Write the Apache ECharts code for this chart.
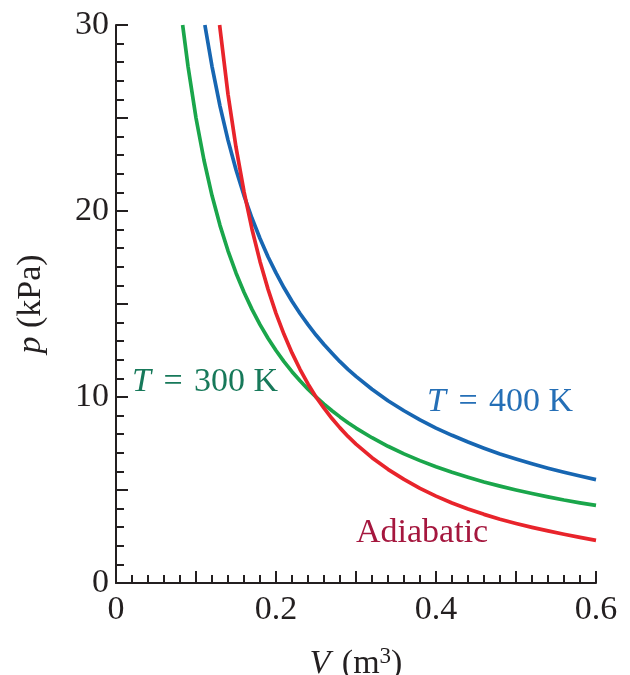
<!DOCTYPE html>
<html>
<head>
<meta charset="utf-8">
<script src="https://cdn.jsdelivr.net/npm/echarts@6/dist/echarts.min.js"></script>
<style>
  html, body { margin: 0; padding: 0; background: #fff; }
  #chart { width: 630px; height: 675px; }
</style>
</head>
<body>
<div id="chart"></div>
<script>
// Volume samples (m^3) and pressures (kPa) along each process curve
const isotherm300V = [0.0833, 0.09, 0.10, 0.11, 0.12, 0.13, 0.14, 0.15, 0.16, 0.17, 0.18, 0.19, 0.20, 0.21, 0.22, 0.23, 0.24, 0.25, 0.26, 0.27, 0.28, 0.29, 0.30,
  0.32, 0.34, 0.36, 0.38, 0.40, 0.42, 0.44, 0.46, 0.48, 0.50, 0.52, 0.54, 0.56, 0.58, 0.60];
const isotherm300P = [30.0, 27.78, 25.0, 22.73, 20.83, 19.23, 17.86, 16.67, 15.63, 14.71, 13.89, 13.16, 12.5, 11.90, 11.36, 10.87, 10.42, 10.0, 9.62, 9.26, 8.93, 8.62, 8.33,
  7.81, 7.35, 6.94, 6.58, 6.25, 5.95, 5.68, 5.43, 5.21, 5.00, 4.81, 4.63, 4.46, 4.31, 4.17];

const isotherm400V = [0.1111, 0.12, 0.13, 0.14, 0.15, 0.16, 0.17, 0.18, 0.19, 0.20, 0.21, 0.22, 0.23, 0.24, 0.25, 0.26, 0.27, 0.28, 0.29, 0.30,
  0.32, 0.34, 0.36, 0.38, 0.40, 0.42, 0.44, 0.46, 0.48, 0.50, 0.52, 0.54, 0.56, 0.58, 0.60];
const isotherm400P = [30.0, 27.78, 25.64, 23.81, 22.22, 20.83, 19.61, 18.52, 17.54, 16.67, 15.87, 15.15, 14.49, 13.89, 13.33, 12.82, 12.35, 11.90, 11.49, 11.11,
  10.42, 9.80, 9.26, 8.77, 8.33, 7.94, 7.58, 7.25, 6.94, 6.67, 6.41, 6.17, 5.95, 5.75, 5.56];

const adiabaticV = [0.1295, 0.14, 0.15, 0.16, 0.17, 0.18, 0.19, 0.20, 0.21, 0.22, 0.23, 0.24, 0.25, 0.26, 0.27, 0.28, 0.29, 0.30,
  0.32, 0.34, 0.36, 0.38, 0.40, 0.42, 0.44, 0.46, 0.48, 0.50, 0.52, 0.54, 0.56, 0.58, 0.60];
const adiabaticP = [30.0, 26.28, 23.43, 21.04, 19.02, 17.29, 15.80, 14.50, 13.37, 12.37, 11.49, 10.70, 10.0, 9.40, 8.84, 8.34, 7.88, 7.47,
  6.74, 6.11, 5.57, 5.09, 4.67, 4.30, 3.98, 3.69, 3.43, 3.20, 2.99, 2.80, 2.62, 2.45, 2.29];

// Tick labels shown on each axis
const xTickLabels = [0, 0.2, 0.4, 0.6];
const yTickLabels = [0, 10, 20, 30];

const SERIF = '"Liberation Serif", "DejaVu Serif", serif';
const INK = '#231f20';
const LABEL_SIZE = 34;

function pairs(xs, ys) {
  return xs.map((x, i) => [x, ys[i]]);
}

function near(list, v) {
  return list.some(t => Math.abs(t - v) < 1e-9);
}

const chart = echarts.init(document.getElementById('chart'), null, { renderer: 'canvas' });

const lineSeries = (name, data, color) => ({
  name,
  type: 'line',
  data,
  smooth: false,
  showSymbol: false,
  symbol: 'none',
  clip: true,
  lineStyle: { color, width: 3.7, join: 'round', cap: 'butt' },
  emphasis: { disabled: true }
});

const option = {
  animation: false,
  backgroundColor: '#ffffff',
  grid: { left: 116, right: 34, top: 25, bottom: 92, containLabel: false, outerBoundsMode: 'none' },
  xAxis: {
    type: 'value',
    min: 0,
    max: 0.6,
    interval: 0.1,
    name: '{it|V} (m{sup|3})',
    nameLocation: 'middle',
    nameGap: 62,
    nameTextStyle: {
      fontFamily: SERIF,
      fontSize: LABEL_SIZE,
      color: INK,
      rich: {
        it: { fontFamily: SERIF, fontSize: LABEL_SIZE, fontStyle: 'italic', color: INK, padding: [0, 3, 0, 0] },
        sup: { fontFamily: SERIF, fontSize: 23, color: INK, verticalAlign: 'top', padding: [0, 0, 16, 0] }
      }
    },
    axisLine: { show: true, lineStyle: { color: INK, width: 2 } },
    axisTick: { show: true, inside: true, length: 12, lineStyle: { color: INK, width: 2 } },
    minorTick: { show: true, splitNumber: 5, length: 8, lineStyle: { color: INK, width: 2 } },
    splitLine: { show: false },
    minorSplitLine: { show: false },
    axisLabel: {
      fontFamily: SERIF,
      fontSize: LABEL_SIZE,
      color: INK,
      margin: 10,
      formatter: v => (near(xTickLabels, v) ? String(Math.round(v * 10) / 10) : '')
    }
  },
  yAxis: {
    type: 'value',
    min: 0,
    max: 30,
    interval: 5,
    name: '{it|p} (kPa)',
    nameLocation: 'middle',
    nameRotate: 90,
    nameGap: 68,
    nameTextStyle: {
      fontFamily: SERIF,
      fontSize: LABEL_SIZE,
      color: INK,
      rich: {
        it: { fontFamily: SERIF, fontSize: LABEL_SIZE, fontStyle: 'italic', color: INK }
      }
    },
    axisLine: { show: true, lineStyle: { color: INK, width: 2 } },
    axisTick: { show: true, inside: true, length: 12, lineStyle: { color: INK, width: 2 } },
    minorTick: { show: true, splitNumber: 5, length: 8, lineStyle: { color: INK, width: 2 } },
    splitLine: { show: false },
    minorSplitLine: { show: false },
    axisLabel: {
      fontFamily: SERIF,
      fontSize: LABEL_SIZE,
      color: INK,
      margin: 7,
      formatter: v => (near(yTickLabels, v) ? String(v) : '')
    }
  },
  series: [
    lineSeries('T = 300 K', pairs(isotherm300V, isotherm300P), '#1aa64b'),
    lineSeries('T = 400 K', pairs(isotherm400V, isotherm400P), '#1766b2'),
    lineSeries('Adiabatic', pairs(adiabaticV, adiabaticP), '#e8242b')
  ]
};

chart.setOption(option);

// Curve captions; the equals sign gets a little extra room on both sides
function caption(text, x, y, color) {
  return {
    type: 'text',
    x, y,
    silent: true,
    style: {
      text,
      fill: color,
      font: LABEL_SIZE + 'px ' + SERIF,
      textAlign: 'left',
      textVerticalAlign: 'middle',
      rich: {
        it: { fontFamily: SERIF, fontSize: LABEL_SIZE, fontStyle: 'italic', fill: color },
        eq: { fontFamily: SERIF, fontSize: LABEL_SIZE, fill: color, padding: [0, 3, 0, 4] }
      }
    }
  };
}

chart.setOption({
  graphic: [
    caption('{it|T} {eq|=} 300 K', 132, 382, '#17795a'),
    caption('{it|T} {eq|=} 400 K', 427, 402, '#256fb6'),
    caption('Adiabatic', 356, 533, '#a5173e')
  ]
});
</script>
</body>
</html>
